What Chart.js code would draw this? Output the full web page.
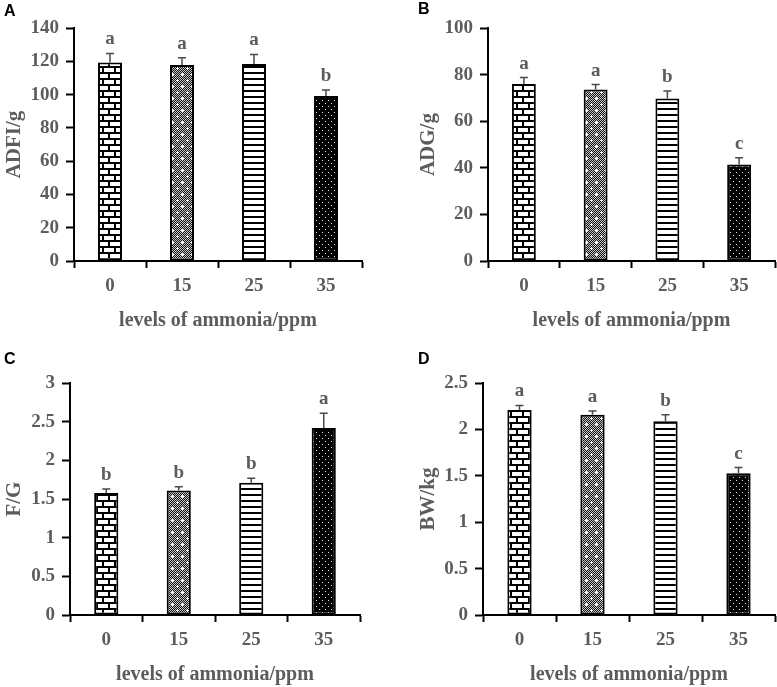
<!DOCTYPE html>
<html>
<head>
<meta charset="utf-8">
<script src="https://cdn.jsdelivr.net/npm/chart.js@4.4.0/dist/chart.umd.min.js"></script>
<style>
	body { margin: 0; background: #fff; width: 777px; height: 687px; position: relative; overflow: hidden; }
	canvas { position: absolute; }
</style>
</head>
<body>
<canvas id="cA"></canvas>
<canvas id="cB"></canvas>
<canvas id="cC"></canvas>
<canvas id="cD"></canvas>
<script>
// ammonia levels shared by all four panels
const levels = ['0', '15', '25', '35'];
const xTitle = 'levels of ammonia/ppm';

// A: average daily feed intake
const adfiMeans = [119.4, 117.8, 118.4, 99.3];
const adfiErrors = [5.4, 4.4, 5.8, 3.6];
const adfiLetters = ['a', 'a', 'a', 'b'];

// B: average daily gain
const adgMeans = [76.0, 73.7, 69.8, 41.5];
const adgErrors = [2.8, 2.1, 3.2, 2.8];
const adgLetters = ['a', 'a', 'b', 'c'];

// C: feed / gain
const fgMeans = [1.58, 1.61, 1.71, 2.42];
const fgErrors = [0.05, 0.05, 0.06, 0.19];
const fgLetters = ['b', 'b', 'b', 'a'];

// D: body weight
const bwMeans = [2.21, 2.16, 2.09, 1.53];
const bwErrors = [0.05, 0.04, 0.07, 0.06];
const bwLetters = ['a', 'a', 'b', 'c'];

const gray = '#5c5c5c';
const serif = 'Liberation Serif';

function makePattern(w, h, draw) {
	const c = document.createElement('canvas');
	c.width = w;
	c.height = h;
	const g = c.getContext('2d');
	draw(g);
	return g.createPattern(c, 'repeat');
}

const brick = makePattern(12, 12, (g) => {
	g.fillStyle = '#fff';
	g.fillRect(0, 0, 12, 12);
	g.fillStyle = '#000';
	g.fillRect(0, 0, 12, 2);
	g.fillRect(0, 6, 12, 2);
	g.fillRect(0, 0, 2, 6);
	g.fillRect(6, 6, 2, 6);
});

const speckle = makePattern(10, 12, (g) => {
	for (let y = 0; y < 12; y++) {
		for (let x = 0; x < 10; x++) {
			g.fillStyle = (x + y) % 2 ? '#111' : '#c8c8c8';
			g.fillRect(x, y, 1, 1);
		}
	}
	g.fillStyle = '#fff';
	g.fillRect(1, 2, 3, 1);
	g.fillRect(2, 1, 1, 3);
	g.fillRect(6, 8, 3, 1);
	g.fillRect(7, 7, 1, 3);
});

const stripes = makePattern(4, 6, (g) => {
	g.fillStyle = '#fff';
	g.fillRect(0, 0, 4, 6);
	g.fillStyle = '#000';
	g.fillRect(0, 0, 4, 2);
});

const dots = makePattern(6, 6, (g) => {
	g.fillStyle = '#000';
	g.fillRect(0, 0, 6, 6);
	g.fillStyle = '#e8e8e8';
	g.fillRect(1, 1, 1, 1);
	g.fillRect(4, 4, 1, 1);
});

const fills = [brick, speckle, stripes, dots];

// upper error bar plus significance letter over every bar
const errorBars = {
	id: 'errorBars',
	afterDatasetsDraw(chart, args, opts) {
		const ctx = chart.ctx;
		const yScale = chart.scales.y;
		const values = chart.data.datasets[0].data;
		ctx.save();
		chart.getDatasetMeta(0).data.forEach((bar, i) => {
			const top = yScale.getPixelForValue(values[i] + opts.errors[i]);
			ctx.strokeStyle = '#4a4a4a';
			ctx.lineWidth = 1.5;
			ctx.beginPath();
			ctx.moveTo(bar.x, bar.y);
			ctx.lineTo(bar.x, top);
			ctx.moveTo(bar.x - 4, top);
			ctx.lineTo(bar.x + 4, top);
			ctx.stroke();
			ctx.fillStyle = gray;
			ctx.font = 'bold 19px "' + serif + '"';
			ctx.textAlign = 'center';
			ctx.textBaseline = 'alphabetic';
			ctx.fillText(opts.letters[i], bar.x, top - 9);
		});
		ctx.restore();
	}
};

const panels = [
	{id: 'cA', tag: 'A', left: 0, top: 0, width: 364, height: 333, yWidth: 70, titlePad: {top: 2, bottom: 7},
		values: adfiMeans, errors: adfiErrors, letters: adfiLetters, yMax: 140, yStep: 20, yTitle: 'ADFI/g'},
	{id: 'cB', tag: 'B', left: 414, top: 0, width: 363, height: 333, yWidth: 70, titlePad: {top: 0, bottom: 9},
		values: adgMeans, errors: adgErrors, letters: adgLetters, yMax: 100, yStep: 20, yTitle: 'ADG/g'},
	{id: 'cC', tag: 'C', left: 0, top: 350, width: 362, height: 337, yWidth: 66, titlePad: {top: 0, bottom: 14},
		values: fgMeans, errors: fgErrors, letters: fgLetters, yMax: 3, yStep: 0.5, yTitle: 'F/G'},
	{id: 'cD', tag: 'D', left: 414, top: 350, width: 363, height: 337, yWidth: 65, titlePad: {top: 0, bottom: 14},
		values: bwMeans, errors: bwErrors, letters: bwLetters, yMax: 2.5, yStep: 0.5, yTitle: 'BW/kg'}
];

function renderPanel(p) {
	const canvas = document.getElementById(p.id);
	canvas.width = p.width;
	canvas.height = p.height;
	canvas.style.left = p.left + 'px';
	canvas.style.top = p.top + 'px';

	const tickFont = {family: serif, weight: 'bold', size: 19};
	const config = {
		type: 'bar',
		data: {
			labels: levels,
			datasets: [{
				data: p.values,
				backgroundColor: fills,
				borderColor: '#000',
				borderWidth: 2,
				borderSkipped: false,
				barPercentage: 0.333,
				categoryPercentage: 1
			}]
		},
		options: {
			responsive: false,
			animation: false,
			devicePixelRatio: 1,
			layout: {padding: {left: 4, right: 2, top: 0, bottom: 0}},
			plugins: {
				legend: {display: false},
				tooltip: {enabled: false},
				title: {
					display: true,
					text: p.tag,
					align: 'start',
					color: '#000',
					font: {family: 'Liberation Sans', weight: 'bold', size: 16, lineHeight: 1.2},
					padding: p.titlePad
				},
				errorBars: {errors: p.errors, letters: p.letters}
			},
			scales: {
				x: {
					ticks: {color: gray, font: tickFont, padding: 7},
					grid: {drawOnChartArea: false, offset: true, tickLength: 7, tickColor: '#000', tickWidth: 2},
					border: {color: '#000', width: 2},
					title: {
						display: true,
						text: xTitle,
						color: gray,
						font: {family: serif, weight: 'bold', size: 20},
						padding: {top: 6, bottom: 0}
					},
					afterFit(scale) { scale.height = 72; }
				},
				y: {
					min: 0,
					max: p.yMax,
					ticks: {
						stepSize: p.yStep,
						color: gray,
						font: tickFont,
						padding: 7,
						callback: (value) => String(value)
					},
					grid: {drawOnChartArea: false, tickLength: 8, tickColor: '#000', tickWidth: 2},
					border: {color: '#000', width: 2},
					title: {
						display: true,
						text: p.yTitle,
						color: gray,
						font: {family: serif, weight: 'bold', size: 21, lineHeight: 1},
						padding: 0
					},
					afterFit(scale) { scale.width = p.yWidth; }
				}
			}
		},
		plugins: [errorBars]
	};
	return new Chart(canvas, config);
}

panels.forEach(renderPanel);
</script>
</body>
</html>
